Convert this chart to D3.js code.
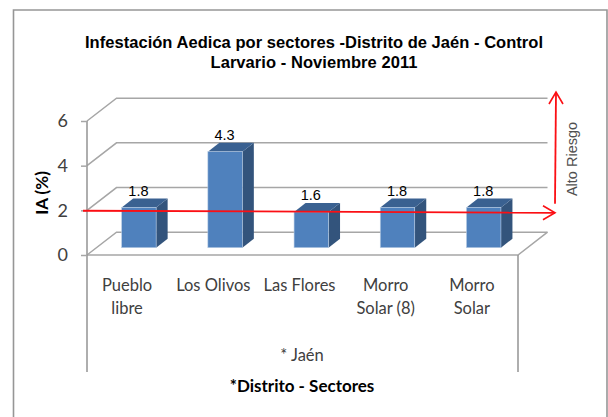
<!DOCTYPE html>
<html>
<head>
<meta charset="utf-8">
<title>Infestación Aedica por sectores</title>
<script src="https://cdn.jsdelivr.net/npm/d3@7"></script>
<style>
  html, body { margin:0; padding:0; background:#fff; }
  svg { display:block; }
</style>
</head>
<body>
<div id="chart"></div>
<script>
(function () {
  "use strict";
  /* ---- data ---------------------------------------------------------- */
  var sectors = ["Pueblo libre", "Los Olivos", "Las Flores", "Morro Solar (8)", "Morro Solar"];
  var sectorLines = [["Pueblo", "libre"], ["Los Olivos"], ["Las Flores"], ["Morro", "Solar (8)"], ["Morro", "Solar"]];
  var iaValues = [1.8, 4.3, 1.6, 1.8, 1.8];
  var yTicks = [0, 2, 4, 6];
  var riskLevel = 2;
  var titleLines = ["Infestación Aedica por sectores -Distrito de Jaén - Control", "Larvario - Noviembre 2011"];
  var titleWidths = [458, 207];

  var W = 608, H = 417;
  var GRID = "#a6a6a6", FRAME = "#969696", RED = "#fb0f14", TEXT = "#404040";
  var FRONT = "#4f81bd", TOP = "#3a6191", SIDE = "#33547c";
  var SANS = "'Liberation Sans', Arial, sans-serif", CAL = "Lato, Calibri, sans-serif";

  var svg = d3.select("#chart").append("svg").attr("width", W).attr("height", H)
    .attr("role", "img").attr("aria-label", titleLines.join(" "));

  var x = d3.scaleBand().domain(sectors).range([87, 518]);
  var y = d3.scaleLinear().domain([0, 6]).range([255, 121]);
  // 3D look: offset of the back wall, and the depth of a bar
  var wallX = 29.5, wallY = -22.8, depthX = 11.5, depthY = -9, barX = 8.8, barY = -7.3;
  var barW = x.bandwidth() * 0.4;
  var line = d3.line();

  /* ---- outer frame ---------------------------------------------------- */
  svg.append("path").attr("d", line([[13.5, H], [13.5, 10], [607, 10], [607, H]]))
    .attr("fill", "none").attr("stroke", FRAME).attr("stroke-width", 1.6);

  /* ---- title ---------------------------------------------------------- */
  titleLines.forEach(function (t, i) {
    svg.append("text").attr("x", 314).attr("y", 48 + i * 20).attr("text-anchor", "middle")
      .attr("font-family", SANS).attr("font-size", 16.5).attr("font-weight", 700)
      .attr("textLength", titleWidths[i]).attr("lengthAdjust", "spacing")
      .attr("fill", "#000").text(t);
  });

  /* ---- walls and gridlines -------------------------------------------- */
  var r0 = x.range()[0], r1 = x.range()[1];
  yTicks.forEach(function (t) {
    svg.append("path").attr("d", line([[r0, y(t)], [r0 + wallX, y(t) + wallY], [r1 + wallX, y(t) + wallY]]))
      .attr("fill", "none").attr("stroke", GRID).attr("stroke-width", 1.5);
  });
  svg.append("path").attr("d", line([[r0, y(0)], [r1, y(0)], [r1 + wallX, y(0) + wallY]]))
    .attr("fill", "none").attr("stroke", GRID).attr("stroke-width", 1.5);
  // axis verticals run down past the labels
  [r0, r1].forEach(function (px, i) {
    svg.append("line").attr("x1", px).attr("x2", px).attr("y1", i ? y(0) : y(6)).attr("y2", 372)
      .attr("stroke", "#9a9a9a").attr("stroke-width", 1.6);
  });

  var yAxis = d3.axisLeft(y).tickValues(yTicks).tickFormat(d3.format("d")).tickSize(6).tickPadding(13);
  var ga = svg.append("g").attr("transform", "translate(" + r0 + ",0)").call(yAxis);
  ga.select(".domain").remove();
  ga.selectAll(".tick line").attr("stroke", GRID).attr("stroke-width", 1.5);
  ga.selectAll(".tick text").attr("font-family", CAL).attr("font-size", 18).attr("fill", TEXT);

  /* ---- bars ----------------------------------------------------------- */
  sectors.forEach(function (s, i) {
    var x0 = x(s) + x.bandwidth() / 2 + barX - barW / 2, x1 = x0 + barW;
    var yb = y(0) + barY, yt = y(iaValues[i]) + barY;
    svg.append("path").attr("fill", SIDE).attr("d", line([[x1, yb], [x1, yt], [x1 + depthX, yt + depthY], [x1 + depthX, yb + depthY]]) + "Z");
    svg.append("path").attr("fill", TOP).attr("d", line([[x0, yt], [x1, yt], [x1 + depthX, yt + depthY], [x0 + depthX, yt + depthY]]) + "Z");
    svg.append("rect").attr("x", x0).attr("y", yt).attr("width", barW).attr("height", yb - yt)
      .attr("fill", FRONT).attr("stroke", "#b9cde5").attr("stroke-width", 0.6);
    svg.append("text").attr("x", (x0 + x1) / 2 - 0.5).attr("y", yt - 11.5).attr("text-anchor", "middle")
      .attr("font-family", SANS).attr("font-size", 14.5).attr("fill", "#000").text(iaValues[i].toFixed(1));
  });

  /* ---- category labels and axis titles -------------------------------- */
  sectors.forEach(function (s, i) {
    sectorLines[i].forEach(function (t, k) {
      svg.append("text").attr("x", x(s) + x.bandwidth() / 2 - 3).attr("y", 291 + k * 23).attr("text-anchor", "middle")
        .attr("font-family", CAL).attr("font-size", 16.5).attr("fill", TEXT).text(t);
    });
  });
  svg.append("text").attr("x", 302).attr("y", 361).attr("text-anchor", "middle")
    .attr("font-family", CAL).attr("font-size", 16.5).attr("fill", TEXT).text("* Jaén");
  svg.append("text").attr("x", 302).attr("y", 392).attr("text-anchor", "middle")
    .attr("font-family", CAL).attr("font-size", 17).attr("font-weight", 700).attr("fill", "#000").text("*Distrito - Sectores");
  svg.append("text").attr("transform", "translate(48,193) rotate(-90)").attr("text-anchor", "middle")
    .attr("font-family", CAL).attr("font-size", 17).attr("font-weight", 700).attr("fill", "#000").text("IA (%)");

  /* ---- red risk arrows ------------------------------------------------ */
  var yr = y(riskLevel);
  function red(pts, w) {
    svg.append("path").attr("d", line(pts)).attr("fill", "none").attr("stroke", RED)
      .attr("stroke-width", w).attr("stroke-linejoin", "miter");
  }
  red([[83, yr + 0.4], [555, yr + 2.4]], 1.8);
  red([[543, yr - 4.6], [555, yr + 2.4], [543, yr + 9.4]], 1.6);
  red([[555, yr - 6.5], [556, 92]], 1.8);
  red([[549, 104], [556, 92], [563, 104]], 1.6);
  svg.append("text").attr("transform", "translate(577,159) rotate(-90)").attr("text-anchor", "middle")
    .attr("font-family", SANS).attr("font-size", 14.5).attr("fill", "#505050").text("Alto Riesgo");
})();
</script>
</body>
</html>
